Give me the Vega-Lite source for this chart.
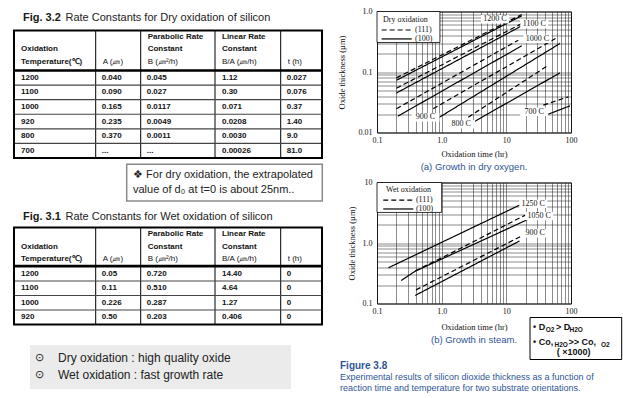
{
 "$schema": "https://vega.github.io/schema/vega-lite/v6.json",
 "background": "white",
 "padding": {"left": 0, "top": 6.5, "right": 0, "bottom": 0},
 "config": {
  "view": {"stroke": null},
  "font": "Liberation Sans",
  "axis": {"labelFont": "Liberation Serif", "labelFontSize": 8, "labelColor": "#111", "titleFont": "Liberation Serif", "titleFontSize": 8.5, "titleFontWeight": "normal", "titleColor": "#111", "domain": false, "ticks": false, "gridColor": "#2a2a2a", "gridWidth": 0.6, "gridOpacity": 0.9, "labelOverlap": false, "labelFlush": false, "labelBound": false}
 },
 "datasets": {
  "titles": [
   {"tbl": "dry", "fig": "Fig. 3.2", "rest": "Rate Constants for Dry oxidation of silicon"},
   {"tbl": "wet", "fig": "Fig. 3.1", "rest": "Rate Constants for Wet oxidation of silicon"}
  ],
  "head": [
   {"col": 0, "line": 1, "text": "Oxidation"},
   {"col": 0, "line": 2, "text": "Temperature(℃)"},
   {"col": 1, "line": 2, "text": "A (㎛)"},
   {"col": 2, "line": 0, "text": "Parabolic Rate"},
   {"col": 2, "line": 1, "text": "Constant"},
   {"col": 2, "line": 2, "text": "B (㎛²/h)"},
   {"col": 3, "line": 0, "text": "Linear Rate"},
   {"col": 3, "line": 1, "text": "Constant"},
   {"col": 3, "line": 2, "text": "B/A (㎛/h)"},
   {"col": 4, "line": 2, "text": "t (h)"}
  ],
  "colEdges": [{"c": 1}, {"c": 2}, {"c": 3}, {"c": 4}],
  "dryRates": [
   {"temp": "1200", "A": "0.040", "B": "0.045", "BA": "1.12", "t": "0.027"},
   {"temp": "1100", "A": "0.090", "B": "0.027", "BA": "0.30", "t": "0.076"},
   {"temp": "1000", "A": "0.165", "B": "0.0117", "BA": "0.071", "t": "0.37"},
   {"temp": "920", "A": "0.235", "B": "0.0049", "BA": "0.0208", "t": "1.40"},
   {"temp": "800", "A": "0.370", "B": "0.0011", "BA": "0.0030", "t": "9.0"},
   {"temp": "700", "A": "...", "B": "...", "BA": "0.00026", "t": "81.0"}
  ],
  "wetRates": [
   {"temp": "1200", "A": "0.05", "B": "0.720", "BA": "14.40", "t": "0"},
   {"temp": "1100", "A": "0.11", "B": "0.510", "BA": "4.64", "t": "0"},
   {"temp": "1000", "A": "0.226", "B": "0.287", "BA": "1.27", "t": "0"},
   {"temp": "920", "A": "0.50", "B": "0.203", "BA": "0.406", "t": "0"}
  ],
  "note": [
   {"k": 0, "s": "❖ For dry oxidation, the extrapolated"},
   {"k": 1, "s": "value of d₀ at t=0 is about 25nm.."}
  ],
  "bullets": [
   {"k": 0, "s": "Dry oxidation : high quality oxide"},
   {"k": 1, "s": "Wet oxidation : fast growth rate"}
  ],
  "dry": [
   {"temp": "1200", "orient": "(111)", "t": 0.2, "d": 0.08}, {"temp": "1200", "orient": "(111)", "t": 17.3, "d": 0.89},
   {"temp": "1200", "orient": "(100)", "t": 0.2, "d": 0.073}, {"temp": "1200", "orient": "(100)", "t": 17.3, "d": 0.85},
   {"temp": "1100", "orient": "(111)", "t": 0.2, "d": 0.054}, {"temp": "1100", "orient": "(111)", "t": 17.3, "d": 0.63},
   {"temp": "1100", "orient": "(100)", "t": 0.2, "d": 0.045}, {"temp": "1100", "orient": "(100)", "t": 17.3, "d": 0.58},
   {"temp": "1000", "orient": "(111)", "t": 0.2, "d": 0.0247}, {"temp": "1000", "orient": "(111)", "t": 15.3, "d": 0.336},
   {"temp": "1000", "orient": "(100)", "t": 0.21, "d": 0.0186}, {"temp": "1000", "orient": "(100)", "t": 17.3, "d": 0.271},
   {"temp": "900", "orient": "(111)", "t": 0.74, "d": 0.0247}, {"temp": "900", "orient": "(111)", "t": 60, "d": 0.367},
   {"temp": "900", "orient": "(100)", "t": 0.84, "d": 0.0168}, {"temp": "900", "orient": "(100)", "t": 67.6, "d": 0.296},
   {"temp": "800", "orient": "(111)", "t": 2.58, "d": 0.0179}, {"temp": "800", "orient": "(111)", "t": 44, "d": 0.128},
   {"temp": "800", "orient": "(100)", "t": 3.08, "d": 0.0148}, {"temp": "800", "orient": "(100)", "t": 67.6, "d": 0.097},
   {"temp": "700", "orient": "(111)", "t": 37.3, "d": 0.0283}, {"temp": "700", "orient": "(111)", "t": 90.8, "d": 0.0389},
   {"temp": "700", "orient": "(100)", "t": 40.6, "d": 0.0193}, {"temp": "700", "orient": "(100)", "t": 96.6, "d": 0.0276}
  ],
  "wet": [
   {"temp": "1250", "orient": "(100)", "t": 0.15, "d": 0.389}, {"temp": "1250", "orient": "(100)", "t": 17.7, "d": 4.45},
   {"temp": "1050", "orient": "(100)", "t": 0.236, "d": 0.24}, {"temp": "1050", "orient": "(100)", "t": 0.39, "d": 0.342}, {"temp": "1050", "orient": "(100)", "t": 21, "d": 2.42},
   {"temp": "1050", "orient": "(111)", "t": 0.39, "d": 0.345}, {"temp": "1050", "orient": "(111)", "t": 1.63, "d": 0.74}, {"temp": "1050", "orient": "(111)", "t": 20, "d": 2.92},
   {"temp": "900", "orient": "(111)", "t": 0.4, "d": 0.168}, {"temp": "900", "orient": "(111)", "t": 18, "d": 1.34},
   {"temp": "900", "orient": "(100)", "t": 0.39, "d": 0.136}, {"temp": "900", "orient": "(100)", "t": 16, "d": 1.08}
  ],
  "dryLabels": [
   {"label": "1200 C", "t": 6.68, "d": 0.746}, {"label": "1100 C", "t": 27, "d": 0.62}, {"label": "1000 C", "t": 30.3, "d": 0.354},
   {"label": "900 C", "t": 0.562, "d": 0.0178}, {"label": "800 C", "t": 2.0, "d": 0.0137}, {"label": "700 C", "t": 27, "d": 0.022}
  ],
  "wetLabels": [
   {"label": "1250 C", "t": 26.1, "d": 4.45}, {"label": "1050 C", "t": 32.2, "d": 2.79}, {"label": "900 C", "t": 28, "d": 1.45}
  ]
 },
 "hconcat": [
  {
   "vconcat": [
    {
     "width": 330, "height": 19,
     "data": {"name": "titles"}, "transform": [{"filter": "datum.tbl == 'dry'"}],
     "layer": [
      {"mark": {"type": "text", "align": "left", "dx": 9, "dy": -3, "fontSize": 11, "fontWeight": "bold", "color": "#1a1a1a"},
       "encoding": {"x": {"datum": 0, "type": "quantitative", "scale": {"domain": [0, 1], "range": [14, 322]}, "axis": null}, "text": {"field": "fig"}}},
      {"mark": {"type": "text", "align": "left", "dx": 51.5, "dy": -3, "fontSize": 11, "color": "#222"},
       "encoding": {"x": {"datum": 0, "type": "quantitative", "axis": null}, "text": {"field": "rest"}}}
     ]
    },
    {
     "width": 330, "height": 40,
     "layer": [
      {"data": {"name": "colEdges"}, "mark": {"type": "rule", "color": "black", "strokeWidth": 1},
       "encoding": {"x": {"field": "c", "type": "quantitative", "scale": {"type": "linear", "domain": [0, 1, 2, 3, 4, 5], "range": [14, 95.7, 140.7, 215, 280.7, 322], "zero": false, "nice": false}, "axis": null}}},
      {"data": {"name": "head"}, "transform": [{"filter": "datum.line < 2 || datum.col == 0"}],
       "mark": {"type": "text", "align": "left", "dx": 7, "fontSize": 8, "fontWeight": "bold", "color": "#111"},
       "encoding": {"x": {"field": "col", "type": "quantitative", "axis": null}, "y": {"field": "line", "type": "ordinal", "scale": {"type": "point", "domain": [0, 1, 2], "range": [6.7, 31], "padding": 0}, "axis": null}, "text": {"field": "text"}}},
      {"data": {"name": "head"}, "transform": [{"filter": "datum.line == 2 && datum.col > 0"}],
       "mark": {"type": "text", "align": "left", "dx": 7, "fontSize": 8, "color": "#111"},
       "encoding": {"x": {"field": "col", "type": "quantitative", "axis": null}, "y": {"field": "line", "type": "ordinal", "axis": null}, "text": {"field": "text"}}},
      {"data": {"values": [{}]}, "mark": {"type": "rect", "fill": null, "stroke": "black", "strokeWidth": 2},
       "encoding": {"x": {"datum": 0, "type": "quantitative", "axis": null}, "x2": {"datum": 5}}}
     ]
    },
    {
     "width": 330, "height": 87.5,
     "layer": [
      {"data": {"name": "colEdges"}, "mark": {"type": "rule", "color": "black", "strokeWidth": 1},
       "encoding": {"x": {"field": "c", "type": "quantitative", "scale": {"type": "linear", "domain": [0, 1, 2, 3, 4, 5], "range": [14, 95.7, 140.7, 215, 280.7, 322], "zero": false, "nice": false}, "axis": null}}},
      {"data": {"name": "dryRates"}, "mark": {"type": "rule", "color": "#444", "strokeWidth": 1.2},
       "encoding": {"y": {"field": "temp", "type": "nominal", "sort": null, "bandPosition": 0, "scale": {"type": "band", "paddingInner": 0, "paddingOuter": 0}, "axis": null}, "x": {"datum": 0, "type": "quantitative", "axis": null}, "x2": {"datum": 5}}},
      {"data": {"name": "dryRates"}, "mark": {"type": "text", "align": "left", "dx": 7, "fontSize": 8, "fontWeight": "bold", "color": "#111"},
       "encoding": {"y": {"field": "temp", "type": "nominal", "sort": null, "axis": null}, "x": {"datum": 0, "type": "quantitative", "axis": null}, "text": {"field": "temp"}}},
      {"data": {"name": "dryRates"}, "mark": {"type": "text", "align": "left", "dx": 6, "fontSize": 8, "fontWeight": "bold", "color": "#111"},
       "encoding": {"y": {"field": "temp", "type": "nominal", "sort": null, "axis": null}, "x": {"datum": 1, "type": "quantitative", "axis": null}, "text": {"field": "A"}}},
      {"data": {"name": "dryRates"}, "mark": {"type": "text", "align": "left", "dx": 6, "fontSize": 8, "fontWeight": "bold", "color": "#111"},
       "encoding": {"y": {"field": "temp", "type": "nominal", "sort": null, "axis": null}, "x": {"datum": 2, "type": "quantitative", "axis": null}, "text": {"field": "B"}}},
      {"data": {"name": "dryRates"}, "mark": {"type": "text", "align": "left", "dx": 7, "fontSize": 8, "fontWeight": "bold", "color": "#111"},
       "encoding": {"y": {"field": "temp", "type": "nominal", "sort": null, "axis": null}, "x": {"datum": 3, "type": "quantitative", "axis": null}, "text": {"field": "BA"}}},
      {"data": {"name": "dryRates"}, "mark": {"type": "text", "align": "left", "dx": 6, "fontSize": 8, "fontWeight": "bold", "color": "#111"},
       "encoding": {"y": {"field": "temp", "type": "nominal", "sort": null, "axis": null}, "x": {"datum": 4, "type": "quantitative", "axis": null}, "text": {"field": "t"}}},
      {"data": {"values": [{}]}, "mark": {"type": "rect", "fill": null, "stroke": "black", "strokeWidth": 2},
       "encoding": {"x": {"datum": 0, "type": "quantitative", "axis": null}, "x2": {"datum": 5}}}
     ]
    },
    {
     "width": 330, "height": 47.5,
     "resolve": {"scale": {"x": "independent", "y": "independent"}},
     "layer": [
      {"data": {"values": [{}]}, "mark": {"type": "rect", "fill": "white", "stroke": "#8a8a8a", "strokeWidth": 1.5},
       "encoding": {"x": {"datum": 0, "type": "quantitative", "scale": {"domain": [0, 1], "range": [126.7, 322.3]}, "axis": null}, "x2": {"datum": 1}, "y": {"datum": 0, "type": "quantitative", "scale": {"domain": [0, 1], "range": [5.8, 42.5]}, "axis": null}, "y2": {"datum": 1}}},
      {"data": {"name": "note"}, "mark": {"type": "text", "align": "left", "fontSize": 11, "color": "#222"},
       "encoding": {"x": {"datum": 0, "type": "quantitative", "scale": {"domain": [0, 1], "range": [133, 322]}, "axis": null}, "y": {"field": "k", "type": "ordinal", "scale": {"type": "point", "domain": [0, 1], "range": [16.5, 31.8], "padding": 0}, "axis": null}, "text": {"field": "s"}}}
     ]
    },
    {
     "width": 330, "height": 21,
     "data": {"name": "titles"}, "transform": [{"filter": "datum.tbl == 'wet'"}],
     "layer": [
      {"mark": {"type": "text", "align": "left", "dx": 9, "dy": 0, "fontSize": 11, "fontWeight": "bold", "color": "#1a1a1a"},
       "encoding": {"x": {"datum": 0, "type": "quantitative", "scale": {"domain": [0, 1], "range": [14, 322]}, "axis": null}, "text": {"field": "fig"}}},
      {"mark": {"type": "text", "align": "left", "dx": 51.5, "dy": 0, "fontSize": 11, "color": "#222"},
       "encoding": {"x": {"datum": 0, "type": "quantitative", "axis": null}, "text": {"field": "rest"}}}
     ]
    },
    {
     "width": 330, "height": 38.3,
     "layer": [
      {"data": {"name": "colEdges"}, "mark": {"type": "rule", "color": "black", "strokeWidth": 1},
       "encoding": {"x": {"field": "c", "type": "quantitative", "scale": {"type": "linear", "domain": [0, 1, 2, 3, 4, 5], "range": [14, 95.7, 140.7, 215, 280.7, 322], "zero": false, "nice": false}, "axis": null}}},
      {"data": {"name": "head"}, "transform": [{"filter": "datum.line < 2 || datum.col == 0"}],
       "mark": {"type": "text", "align": "left", "dx": 7, "fontSize": 8, "fontWeight": "bold", "color": "#111"},
       "encoding": {"x": {"field": "col", "type": "quantitative", "axis": null}, "y": {"field": "line", "type": "ordinal", "scale": {"type": "point", "domain": [0, 1, 2], "range": [6.7, 31.3], "padding": 0}, "axis": null}, "text": {"field": "text"}}},
      {"data": {"name": "head"}, "transform": [{"filter": "datum.line == 2 && datum.col > 0"}],
       "mark": {"type": "text", "align": "left", "dx": 7, "fontSize": 8, "color": "#111"},
       "encoding": {"x": {"field": "col", "type": "quantitative", "axis": null}, "y": {"field": "line", "type": "ordinal", "axis": null}, "text": {"field": "text"}}},
      {"data": {"values": [{}]}, "mark": {"type": "rect", "fill": null, "stroke": "black", "strokeWidth": 2},
       "encoding": {"x": {"datum": 0, "type": "quantitative", "axis": null}, "x2": {"datum": 5}}}
     ]
    },
    {
     "width": 330, "height": 58,
     "layer": [
      {"data": {"name": "colEdges"}, "mark": {"type": "rule", "color": "black", "strokeWidth": 1},
       "encoding": {"x": {"field": "c", "type": "quantitative", "scale": {"type": "linear", "domain": [0, 1, 2, 3, 4, 5], "range": [14, 95.7, 140.7, 215, 280.7, 322], "zero": false, "nice": false}, "axis": null}}},
      {"data": {"name": "wetRates"}, "mark": {"type": "rule", "color": "#444", "strokeWidth": 1.2},
       "encoding": {"y": {"field": "temp", "type": "nominal", "sort": null, "bandPosition": 0, "scale": {"type": "band", "paddingInner": 0, "paddingOuter": 0}, "axis": null}, "x": {"datum": 0, "type": "quantitative", "axis": null}, "x2": {"datum": 5}}},
      {"data": {"name": "wetRates"}, "mark": {"type": "text", "align": "left", "dx": 7, "fontSize": 8, "fontWeight": "bold", "color": "#111"},
       "encoding": {"y": {"field": "temp", "type": "nominal", "sort": null, "axis": null}, "x": {"datum": 0, "type": "quantitative", "axis": null}, "text": {"field": "temp"}}},
      {"data": {"name": "wetRates"}, "mark": {"type": "text", "align": "left", "dx": 6, "fontSize": 8, "fontWeight": "bold", "color": "#111"},
       "encoding": {"y": {"field": "temp", "type": "nominal", "sort": null, "axis": null}, "x": {"datum": 1, "type": "quantitative", "axis": null}, "text": {"field": "A"}}},
      {"data": {"name": "wetRates"}, "mark": {"type": "text", "align": "left", "dx": 6, "fontSize": 8, "fontWeight": "bold", "color": "#111"},
       "encoding": {"y": {"field": "temp", "type": "nominal", "sort": null, "axis": null}, "x": {"datum": 2, "type": "quantitative", "axis": null}, "text": {"field": "B"}}},
      {"data": {"name": "wetRates"}, "mark": {"type": "text", "align": "left", "dx": 7, "fontSize": 8, "fontWeight": "bold", "color": "#111"},
       "encoding": {"y": {"field": "temp", "type": "nominal", "sort": null, "axis": null}, "x": {"datum": 3, "type": "quantitative", "axis": null}, "text": {"field": "BA"}}},
      {"data": {"name": "wetRates"}, "mark": {"type": "text", "align": "left", "dx": 6, "fontSize": 8, "fontWeight": "bold", "color": "#111"},
       "encoding": {"y": {"field": "temp", "type": "nominal", "sort": null, "axis": null}, "x": {"datum": 4, "type": "quantitative", "axis": null}, "text": {"field": "t"}}},
      {"data": {"values": [{}]}, "mark": {"type": "rect", "fill": null, "stroke": "black", "strokeWidth": 2},
       "encoding": {"x": {"datum": 0, "type": "quantitative", "axis": null}, "x2": {"datum": 5}}}
     ]
    },
    {
     "width": 330, "height": 75.7,
     "resolve": {"scale": {"x": "independent", "y": "independent"}},
     "layer": [
      {"data": {"values": [{}]}, "mark": {"type": "rect", "fill": "#ebebeb", "stroke": null},
       "encoding": {"x": {"datum": 0, "type": "quantitative", "scale": {"domain": [0, 1], "range": [30, 291]}, "axis": null}, "x2": {"datum": 1}, "y": {"datum": 0, "type": "quantitative", "scale": {"domain": [0, 1], "range": [20.4, 64.4]}, "axis": null}, "y2": {"datum": 1}}},
      {"data": {"name": "bullets"}, "mark": {"type": "text", "align": "center", "fontSize": 11, "color": "#222", "text": "⊙"},
       "encoding": {"x": {"datum": 0, "type": "quantitative", "scale": {"domain": [0, 1], "range": [39.5, 330]}, "axis": null}, "y": {"field": "k", "type": "ordinal", "scale": {"type": "point", "domain": [0, 1], "range": [33.7, 50.4], "padding": 0}, "axis": null}}},
      {"data": {"name": "bullets"}, "mark": {"type": "text", "align": "left", "fontSize": 12, "color": "#222"},
       "encoding": {"x": {"datum": 0, "type": "quantitative", "scale": {"domain": [0, 1], "range": [58, 330]}, "axis": null}, "y": {"field": "k", "type": "ordinal", "scale": {"type": "point", "domain": [0, 1], "range": [33.7, 50.4], "padding": 0}, "axis": null}, "text": {"field": "s"}}}
     ]
    }
   ],
   "spacing": 0,
   "bounds": "flush"
  },
  {
   "vconcat": [
    {
     "width": 194, "height": 121,
     "view": {"stroke": "black", "strokeWidth": 1},
     "title": {"text": "(a) Growth in dry oxygen.", "orient": "bottom", "anchor": "middle", "font": "Liberation Sans", "fontSize": 9.5, "fontWeight": "normal", "color": "#2e5597", "offset": 4},
     "layer": [
      {"data": {"name": "dry"}, "mark": {"type": "line", "color": "black", "strokeWidth": 1.2},
       "encoding": {
        "x": {"field": "t", "type": "quantitative", "scale": {"type": "log", "domain": [0.1, 100]},
              "axis": {"values": [0.1, 0.2, 0.3, 0.4, 0.5, 0.6, 0.7, 0.8, 0.9, 1, 2, 3, 4, 5, 6, 7, 8, 9, 10, 20, 30, 40, 50, 60, 70, 80, 90, 100], "labelExpr": "datum.value == 0.1 ? '0.1' : datum.value == 1 ? '1.0' : datum.value == 10 ? '10' : datum.value == 100 ? '100' : ''", "title": "Oxidation time (hr)", "grid": true, "labelPadding": 4, "titlePadding": 5}},
        "y": {"field": "d", "type": "quantitative", "scale": {"type": "log", "domain": [0.01, 1]},
              "axis": {"values": [0.01, 0.02, 0.03, 0.04, 0.05, 0.06, 0.07, 0.08, 0.09, 0.1, 0.2, 0.3, 0.4, 0.5, 0.6, 0.7, 0.8, 0.9, 1], "labelExpr": "datum.value == 0.01 ? '0.01' : datum.value == 0.1 ? '0.1' : datum.value == 1 ? '1.0' : ''", "title": "Oxide thickness (µm)", "grid": true, "labelPadding": 5, "titlePadding": 12}},
        "detail": {"field": "temp"},
        "strokeDash": {"field": "orient", "type": "nominal", "scale": {"domain": ["(111)", "(100)"], "range": [[5, 3], [1, 0]]}, "legend": null}
       }},
      {"data": {"name": "dryLabels"}, "mark": {"type": "point", "shape": "M-1,-0.3H1V0.3H-1Z", "filled": true, "color": "white", "opacity": 1, "size": 784},
       "encoding": {"x": {"field": "t", "type": "quantitative"}, "y": {"field": "d", "type": "quantitative"}}},
      {"data": {"name": "dryLabels"}, "mark": {"type": "text", "font": "Liberation Serif", "fontSize": 8, "color": "#111"},
       "encoding": {"x": {"field": "t", "type": "quantitative"}, "y": {"field": "d", "type": "quantitative"}, "text": {"field": "label"}}},
      {"data": {"values": [{}]}, "mark": {"type": "rect", "fill": "white", "stroke": "black", "strokeWidth": 0.8},
       "encoding": {"x": {"datum": 0.1, "type": "quantitative"}, "x2": {"datum": 0.94}, "y": {"datum": 1, "type": "quantitative"}, "y2": {"datum": 0.307}}},
      {"data": {"values": [{}]}, "mark": {"type": "text", "text": "Dry oxidation", "align": "left", "font": "Liberation Serif", "fontSize": 8, "color": "#111"},
       "encoding": {"x": {"datum": 0.124, "type": "quantitative"}, "y": {"datum": 0.72, "type": "quantitative"}}},
      {"data": {"values": [{}]}, "mark": {"type": "rule", "color": "black", "strokeWidth": 1.2, "strokeDash": [5, 3]},
       "encoding": {"x": {"datum": 0.118, "type": "quantitative"}, "x2": {"datum": 0.344}, "y": {"datum": 0.495, "type": "quantitative"}}},
      {"data": {"values": [{}]}, "mark": {"type": "rule", "color": "black", "strokeWidth": 1.2},
       "encoding": {"x": {"datum": 0.118, "type": "quantitative"}, "x2": {"datum": 0.344}, "y": {"datum": 0.352, "type": "quantitative"}}},
      {"data": {"values": [{}]}, "mark": {"type": "text", "text": "(111)", "align": "left", "font": "Liberation Serif", "fontSize": 8, "color": "#111"},
       "encoding": {"x": {"datum": 0.387, "type": "quantitative"}, "y": {"datum": 0.495, "type": "quantitative"}}},
      {"data": {"values": [{}]}, "mark": {"type": "text", "text": "(100)", "align": "left", "font": "Liberation Serif", "fontSize": 8, "color": "#111"},
       "encoding": {"x": {"datum": 0.387, "type": "quantitative"}, "y": {"datum": 0.352, "type": "quantitative"}}}
     ]
    },
    {
     "width": 194, "height": 121,
     "view": {"stroke": "black", "strokeWidth": 1},
     "title": {"text": "(b) Growth in steam.", "orient": "bottom", "anchor": "middle", "font": "Liberation Sans", "fontSize": 9.5, "fontWeight": "normal", "color": "#2e5597", "offset": 4},
     "layer": [
      {"data": {"name": "wet"}, "mark": {"type": "line", "color": "black", "strokeWidth": 1.2},
       "encoding": {
        "x": {"field": "t", "type": "quantitative", "scale": {"type": "log", "domain": [0.1, 100]},
              "axis": {"values": [0.1, 0.2, 0.3, 0.4, 0.5, 0.6, 0.7, 0.8, 0.9, 1, 2, 3, 4, 5, 6, 7, 8, 9, 10, 20, 30, 40, 50, 60, 70, 80, 90, 100], "labelExpr": "datum.value == 0.1 ? '0.1' : datum.value == 1 ? '1.0' : datum.value == 10 ? '10' : datum.value == 100 ? '100' : ''", "title": "Oxidation time (hr)", "grid": true, "labelPadding": 4, "titlePadding": 7}},
        "y": {"field": "d", "type": "quantitative", "scale": {"type": "log", "domain": [0.1, 10]},
              "axis": {"values": [0.1, 0.2, 0.3, 0.4, 0.5, 0.6, 0.7, 0.8, 0.9, 1, 2, 3, 4, 5, 6, 7, 8, 9, 10], "labelExpr": "datum.value == 0.1 ? '0.1' : datum.value == 1 ? '1.0' : datum.value == 10 ? '10' : ''", "title": "Oxide thickness (µm)", "grid": true, "labelPadding": 5, "titlePadding": 6}},
        "detail": {"field": "temp"},
        "strokeDash": {"field": "orient", "type": "nominal", "scale": {"domain": ["(111)", "(100)"], "range": [[5, 3], [1, 0]]}, "legend": null}
       }},
      {"data": {"name": "wetLabels"}, "mark": {"type": "point", "shape": "M-1,-0.3H1V0.3H-1Z", "filled": true, "color": "white", "opacity": 1, "size": 784},
       "encoding": {"x": {"field": "t", "type": "quantitative"}, "y": {"field": "d", "type": "quantitative"}}},
      {"data": {"name": "wetLabels"}, "mark": {"type": "text", "font": "Liberation Serif", "fontSize": 8, "color": "#111"},
       "encoding": {"x": {"field": "t", "type": "quantitative"}, "y": {"field": "d", "type": "quantitative"}, "text": {"field": "label"}}},
      {"data": {"values": [{}]}, "mark": {"type": "rect", "fill": "white", "stroke": "black", "strokeWidth": 0.8},
       "encoding": {"x": {"datum": 0.1, "type": "quantitative"}, "x2": {"datum": 1.0}, "y": {"datum": 10, "type": "quantitative"}, "y2": {"datum": 3.2}}},
      {"data": {"values": [{}]}, "mark": {"type": "text", "text": "Wet oxidation", "align": "left", "font": "Liberation Serif", "fontSize": 8, "color": "#111"},
       "encoding": {"x": {"datum": 0.138, "type": "quantitative"}, "y": {"datum": 7.45, "type": "quantitative"}}},
      {"data": {"values": [{}]}, "mark": {"type": "rule", "color": "black", "strokeWidth": 1.2, "strokeDash": [5, 3]},
       "encoding": {"x": {"datum": 0.125, "type": "quantitative"}, "x2": {"datum": 0.364}, "y": {"datum": 5.12, "type": "quantitative"}}},
      {"data": {"values": [{}]}, "mark": {"type": "rule", "color": "black", "strokeWidth": 1.2},
       "encoding": {"x": {"datum": 0.125, "type": "quantitative"}, "x2": {"datum": 0.364}, "y": {"datum": 3.65, "type": "quantitative"}}},
      {"data": {"values": [{}]}, "mark": {"type": "text", "text": "(111)", "align": "left", "font": "Liberation Serif", "fontSize": 8, "color": "#111"},
       "encoding": {"x": {"datum": 0.4, "type": "quantitative"}, "y": {"datum": 5.12, "type": "quantitative"}}},
      {"data": {"values": [{}]}, "mark": {"type": "text", "text": "(100)", "align": "left", "font": "Liberation Serif", "fontSize": 8, "color": "#111"},
       "encoding": {"x": {"datum": 0.4, "type": "quantitative"}, "y": {"datum": 3.65, "type": "quantitative"}}}
     ]
    },
    {
     "width": 246, "height": 45,
     "layer": [
      {"data": {"values": [{}]}, "mark": {"type": "rect", "fill": "white", "stroke": "black", "strokeWidth": 1},
       "encoding": {"x": {"datum": 0, "type": "quantitative", "scale": {"domain": [0, 1], "range": [153, 244.7]}, "axis": null}, "x2": {"datum": 1}, "y": {"datum": 0, "type": "quantitative", "scale": {"domain": [0, 1], "range": [-36, 6]}, "axis": null}, "y2": {"datum": 1}}},
      {"data": {"values": [{}]}, "mark": {"type": "text", "text": "• D", "align": "left", "dx": 3, "dy": 9.7, "fontSize": 9, "fontWeight": "bold", "color": "#111"},
       "encoding": {"x": {"datum": 0, "type": "quantitative"}, "y": {"datum": 0, "type": "quantitative"}}},
      {"data": {"values": [{}]}, "mark": {"type": "text", "text": "O2", "align": "left", "dx": 15.7, "dy": 12.3, "fontSize": 6.5, "fontWeight": "bold", "color": "#111"},
       "encoding": {"x": {"datum": 0, "type": "quantitative"}, "y": {"datum": 0, "type": "quantitative"}}},
      {"data": {"values": [{}]}, "mark": {"type": "text", "text": "> D", "align": "left", "dx": 26, "dy": 9.7, "fontSize": 9, "fontWeight": "bold", "color": "#111"},
       "encoding": {"x": {"datum": 0, "type": "quantitative"}, "y": {"datum": 0, "type": "quantitative"}}},
      {"data": {"values": [{}]}, "mark": {"type": "text", "text": "H2O", "align": "left", "dx": 39.5, "dy": 12.3, "fontSize": 6.5, "fontWeight": "bold", "color": "#111"},
       "encoding": {"x": {"datum": 0, "type": "quantitative"}, "y": {"datum": 0, "type": "quantitative"}}},
      {"data": {"values": [{}]}, "mark": {"type": "text", "text": "• Co,", "align": "left", "dx": 3, "dy": 24.7, "fontSize": 9, "fontWeight": "bold", "color": "#111"},
       "encoding": {"x": {"datum": 0, "type": "quantitative"}, "y": {"datum": 0, "type": "quantitative"}}},
      {"data": {"values": [{}]}, "mark": {"type": "text", "text": "H2O", "align": "left", "dx": 24.5, "dy": 27.3, "fontSize": 6.5, "fontWeight": "bold", "color": "#111"},
       "encoding": {"x": {"datum": 0, "type": "quantitative"}, "y": {"datum": 0, "type": "quantitative"}}},
      {"data": {"values": [{}]}, "mark": {"type": "text", "text": ">> Co,", "align": "left", "dx": 38.5, "dy": 24.7, "fontSize": 9, "fontWeight": "bold", "color": "#111"},
       "encoding": {"x": {"datum": 0, "type": "quantitative"}, "y": {"datum": 0, "type": "quantitative"}}},
      {"data": {"values": [{}]}, "mark": {"type": "text", "text": "O2", "align": "left", "dx": 71, "dy": 27.3, "fontSize": 6.5, "fontWeight": "bold", "color": "#111"},
       "encoding": {"x": {"datum": 0, "type": "quantitative"}, "y": {"datum": 0, "type": "quantitative"}}},
      {"data": {"values": [{}]}, "mark": {"type": "text", "text": "( ×1000)", "align": "left", "dx": 26.7, "dy": 34.7, "fontSize": 9, "fontWeight": "bold", "color": "#111"},
       "encoding": {"x": {"datum": 0, "type": "quantitative"}, "y": {"datum": 0, "type": "quantitative"}}},
      {"data": {"values": [{}]}, "mark": {"type": "text", "text": "Figure 3.8", "align": "left", "dx": -190, "dy": 48, "fontSize": 10, "fontWeight": "bold", "color": "#2e5597"},
       "encoding": {"x": {"datum": 0, "type": "quantitative"}, "y": {"datum": 0, "type": "quantitative"}}},
      {"data": {"values": [{}]}, "mark": {"type": "text", "text": "Experimental results of silicon dioxide thickness as a function of", "align": "left", "dx": -190, "dy": 59.5, "fontSize": 9, "color": "#2e5597"},
       "encoding": {"x": {"datum": 0, "type": "quantitative"}, "y": {"datum": 0, "type": "quantitative"}}},
      {"data": {"values": [{}]}, "mark": {"type": "text", "text": "reaction time and temperature for two substrate orientations.", "align": "left", "dx": -190, "dy": 70.5, "fontSize": 9, "color": "#2e5597"},
       "encoding": {"x": {"datum": 0, "type": "quantitative"}, "y": {"datum": 0, "type": "quantitative"}}}
     ]
    }
   ],
   "spacing": 50,
   "bounds": "flush"
  }
 ],
 "spacing": 6,
 "bounds": "full"
}
